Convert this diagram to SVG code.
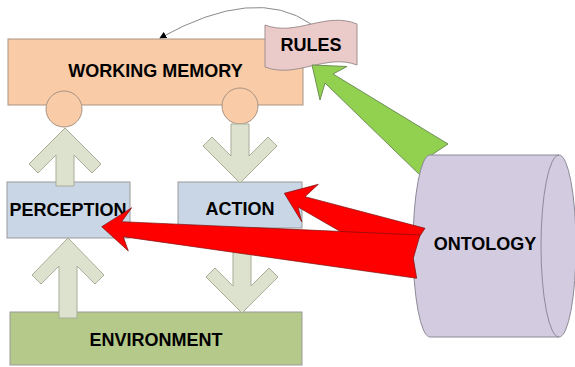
<svg xmlns="http://www.w3.org/2000/svg" width="575" height="367" viewBox="0 0 575 367">
<defs>
<style>
.lbl{font-family:"Liberation Sans",Arial,sans-serif;font-weight:bold;font-size:18px;fill:#000;text-anchor:middle}
.wm{fill:#F9CBA7;stroke:#A89484;stroke-width:1}
.box{fill:#C9D6E6;stroke:#9A9A9A;stroke-width:1}
.env{fill:#B5C98A;stroke:#9A9A9A;stroke-width:1}
.garrow{fill:#DDE2CE;stroke:#A9AD98;stroke-width:1}
.red{fill:#FF0000;stroke:#7A1010;stroke-width:0.7}
</style>
<marker id="ah" viewBox="0 0 10 10" refX="9" refY="5" markerWidth="7" markerHeight="7" orient="auto" markerUnits="userSpaceOnUse">
<path d="M0,0 L10,5 L0,10 Z" fill="#000"/>
</marker>
</defs>

<g id="working-memory">
<rect class="wm" x="8" y="39" width="295" height="66"/>
<text class="lbl" x="155.5" y="77">WORKING MEMORY</text>
<circle class="wm" cx="64" cy="109" r="18"/>
<circle class="wm" cx="240" cy="106" r="18"/>
</g>

<g id="perception">
<rect class="box" x="7" y="182" width="123" height="56"/>
<text class="lbl" x="68" y="216">PERCEPTION</text>
</g>

<g id="action">
<rect class="box" x="178" y="182" width="124" height="46"/>
<text class="lbl" x="240" y="215">ACTION</text>
</g>

<g id="environment">
<rect class="env" x="10" y="312" width="292" height="53"/>
<text class="lbl" x="156" y="346">ENVIRONMENT</text>
</g>

<g id="rules">
<path d="M265,25 C296,37 326,11 357,24 L357,65 C326,53 296,79 265,67 Z" fill="#EBCACA" stroke="#A09090" stroke-width="1"/>
<text class="lbl" x="311" y="51">RULES</text>
</g>

<g id="connectors">
<path d="M311,24 Q255,-15 160,38" fill="none" stroke="#8A8A8A" stroke-width="1" marker-end="url(#ah)"/>
<polygon class="garrow" points="65,128 101,164 92,173 74,155 74,186 56,186 56,155 38,173 29,164"/>
<polygon class="garrow" points="240,183 203,146 212,137 231,156 231,124 249,124 249,156 268,137 277,146"/>
<polygon class="garrow" points="68,238 104,275 95,284 77,266 77,318 59,318 59,266 41,284 32,275"/>
<polygon class="garrow" points="242,313 206,277 215,268 233,286 233,228 251,228 251,286 269,268 278,277"/>
<polygon points="312,65 347,66.5 333,74 448,144 430,156 422,177 325,83 320,100" fill="#92D050" stroke="#6E8F55" stroke-width="1"/>
</g>

<g id="ontology">
<path d="M430,155 L559,155 A17,91 0 0 1 559,337 L430,337 A17,91 0 0 1 430,155 Z" fill="#D3CBE0" stroke="#8E8A98" stroke-width="1"/>
<path d="M559,155 A18,91 0 0 0 559,337" fill="none" stroke="#8E8A98" stroke-width="1"/>
<text class="lbl" x="485" y="250">ONTOLOGY</text>
</g>

<g id="red-connectors">
<polygon class="red" points="284.3,193.3 318.3,184.3 305,196.7 425,228.3 400,266 298,207 301.7,221.7"/>
<polygon class="red" points="101.7,226.7 131.7,207.7 121.7,221.7 420,235 413.3,258.3 416.7,278.3 123.3,236.7 128.3,251"/>
</g>
</svg>
